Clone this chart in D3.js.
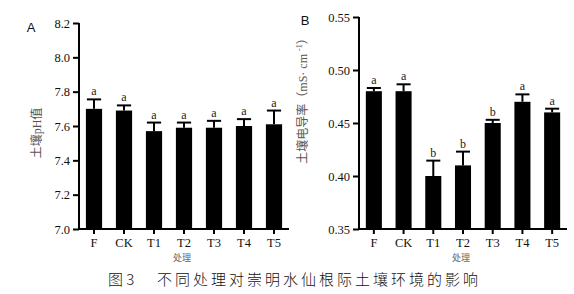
<!DOCTYPE html>
<html>
<head>
<meta charset="utf-8">
<script src="https://cdn.jsdelivr.net/npm/d3@7"></script>
<style>
  body { margin: 0; background: #fff; }
  svg { display: block; }
</style>
</head>
<body>
<div id="chart"></div>
<script>
// treatments shared by both panels
const treatments = ["F", "CK", "T1", "T2", "T3", "T4", "T5"];

// panel A: soil pH
const phMean = [7.70, 7.69, 7.57, 7.59, 7.59, 7.60, 7.61];
const phErr = [0.055, 0.03, 0.05, 0.03, 0.04, 0.04, 0.08];
const phLetters = ["a", "a", "a", "a", "a", "a", "a"];
const phTicks = [7.0, 7.2, 7.4, 7.6, 7.8, 8.0, 8.2];

// panel B: soil conductivity
const ecMean = [0.480, 0.480, 0.400, 0.410, 0.450, 0.470, 0.460];
const ecErr = [0.003, 0.0065, 0.0145, 0.013, 0.003, 0.007, 0.0035];
const ecLetters = ["a", "a", "b", "b", "b", "a", "a"];
const ecTicks = [0.35, 0.40, 0.45, 0.50, 0.55];

const svg = d3.select("#chart").append("svg")
    .attr("width", 574)
    .attr("height", 294);

const serif = "'Liberation Serif', 'Times New Roman', serif";
const cjk = "'Liberation Serif', 'Noto Sans CJK SC', serif";

// draws one bar panel with upper error bars and significance letters
function drawPanel(opts) {
    const g = svg.append("g");

    const x = d3.scaleBand()
        .domain(treatments)
        .range([opts.left, opts.left + opts.width])
        .paddingInner(0.46)
        .paddingOuter(0.23);

    const y = d3.scaleLinear()
        .domain(opts.domain)
        .range([opts.bottom, opts.top]);

    // bars
    g.selectAll(".bar")
        .data(opts.mean)
        .enter().append("rect")
        .attr("x", (d, i) => x(treatments[i]))
        .attr("y", d => y(d))
        .attr("width", x.bandwidth())
        .attr("height", d => opts.bottom - y(d))
        .attr("fill", "#000");

    // error stems and caps
    g.selectAll(".stem")
        .data(opts.mean)
        .enter().append("line")
        .attr("x1", (d, i) => x(treatments[i]) + x.bandwidth() / 2)
        .attr("x2", (d, i) => x(treatments[i]) + x.bandwidth() / 2)
        .attr("y1", d => y(d))
        .attr("y2", (d, i) => y(d + opts.err[i]))
        .attr("stroke", "#000")
        .attr("stroke-width", 2);

    g.selectAll(".cap")
        .data(opts.mean)
        .enter().append("line")
        .attr("x1", (d, i) => x(treatments[i]) + 1)
        .attr("x2", (d, i) => x(treatments[i]) + x.bandwidth() - 1)
        .attr("y1", (d, i) => y(d + opts.err[i]))
        .attr("y2", (d, i) => y(d + opts.err[i]))
        .attr("stroke", "#000")
        .attr("stroke-width", 2);

    // significance letters
    g.selectAll(".sig")
        .data(opts.letters)
        .enter().append("text")
        .attr("x", (d, i) => x(treatments[i]) + x.bandwidth() / 2)
        .attr("y", (d, i) => y(opts.mean[i] + opts.err[i]) - 4)
        .attr("text-anchor", "middle")
        .style("font-family", serif)
        .style("font-size", "12px")
        .attr("fill", "#222")
        .text(d => d);

    // axes
    const yAxis = g.append("g")
        .attr("transform", `translate(${opts.left},0)`)
        .call(d3.axisLeft(y).tickValues(opts.ticks).tickFormat(opts.fmt).tickSize(6).tickPadding(3));

    const xAxis = g.append("g")
        .attr("transform", `translate(0,${opts.bottom})`)
        .call(d3.axisBottom(x).tickSize(5).tickPadding(4));

    [yAxis, xAxis].forEach(a => {
        a.select(".domain").attr("stroke-width", 2).attr("stroke", "#000");
        a.selectAll(".tick line").attr("stroke-width", 2).attr("stroke", "#000");
        a.selectAll(".tick text")
            .style("font-family", serif)
            .style("font-size", "12.5px")
            .attr("fill", "#111");
    });
    yAxis.select(".domain").attr("d", `M-0,${opts.top}V${opts.bottom}`);
    xAxis.select(".domain").attr("d", `M${opts.left},0H${opts.left + opts.width}`);

    // x title
    g.append("text")
        .attr("x", opts.left + opts.width / 2 - 2)
        .attr("y", 261)
        .attr("text-anchor", "middle")
        .style("font-family", "'Noto Sans CJK SC', sans-serif")
        .style("font-size", "9px")
        .attr("fill", "#666")
        .text("处理");

    // y title
    g.append("text")
        .attr("transform", `translate(${opts.ylabX},${opts.ylabY}) rotate(-90)`)
        .attr("text-anchor", "middle")
        .attr("dominant-baseline", "central")
        .style("font-family", cjk)
        .style("font-size", "12px")
        .attr("fill", "#555")
        .html(opts.ylab);

    // panel letter
    g.append("text")
        .attr("x", opts.tagX)
        .attr("y", opts.tagY)
        .attr("text-anchor", "middle")
        .attr("dominant-baseline", "central")
        .style("font-family", "'Liberation Sans', Arial, sans-serif")
        .style("font-size", "13px")
        .attr("fill", "#111")
        .text(opts.tag);
}

drawPanel({
    left: 79, width: 210, top: 23, bottom: 229,
    domain: [7.0, 8.2], ticks: phTicks, fmt: d3.format(".1f"),
    mean: phMean, err: phErr, letters: phLetters,
    ylab: "土壤pH值", ylabX: 37, ylabY: 133,
    tag: "A", tagX: 31, tagY: 27
});

drawPanel({
    left: 359, width: 208, top: 17, bottom: 229,
    domain: [0.35, 0.55], ticks: ecTicks, fmt: d3.format(".2f"),
    mean: ecMean, err: ecErr, letters: ecLetters,
    ylab: "土壤电导率（mS· cm <tspan dy='-4' font-size='8'>-1</tspan><tspan dy='4'>）</tspan>",
    ylabX: 303, ylabY: 98,
    tag: "B", tagX: 305, tagY: 20
});

// figure caption
svg.append("text")
    .attr("x", 108)
    .attr("y", 285)
    .style("font-family", "'Noto Sans CJK SC', sans-serif")
    .style("font-size", "15px")
    .style("font-weight", "300")
    .attr("fill", "#111")
    .text("图 3");

svg.append("text")
    .attr("x", 157)
    .attr("y", 285)
    .style("font-family", "'Noto Sans CJK SC', sans-serif")
    .style("font-size", "15px")
    .style("font-weight", "300")
    .style("letter-spacing", "3px")
    .attr("fill", "#111")
    .text("不同处理对崇明水仙根际土壤环境的影响");
</script>
</body>
</html>
